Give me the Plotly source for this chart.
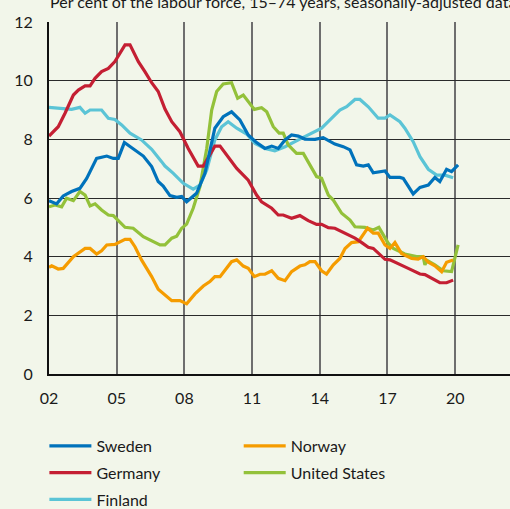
import plotly.graph_objects as go

# ---- data (decimal years, per cent) ----
sweden_x = [2002.0, 2002.34, 2002.63, 2003.0, 2003.37, 2003.67, 2004.11, 2004.56, 2004.85, 2005.07, 2005.34, 2005.73, 2006.18, 2006.55, 2006.84, 2007.06, 2007.36, 2007.66, 2007.88, 2008.1, 2008.54, 2008.91, 2009.35, 2009.72, 2010.09, 2010.46, 2010.83, 2011.2, 2011.57, 2011.87, 2012.16, 2012.46, 2012.75, 2013.05, 2013.34, 2013.79, 2014.15, 2014.67, 2015.04, 2015.34, 2015.63, 2015.93, 2016.15, 2016.37, 2016.89, 2017.11, 2017.55, 2017.70, 2018.14, 2018.44, 2018.81, 2019.10, 2019.32, 2019.62, 2019.84, 2020.13]
sweden_y = [5.91, 5.80, 6.07, 6.22, 6.33, 6.67, 7.35, 7.43, 7.35, 7.35, 7.89, 7.69, 7.43, 7.07, 6.56, 6.41, 6.08, 6.02, 6.05, 5.87, 6.16, 6.84, 8.38, 8.77, 8.94, 8.66, 8.15, 7.89, 7.69, 7.77, 7.69, 7.98, 8.15, 8.11, 8.01, 8.0, 8.06, 7.84, 7.75, 7.64, 7.13, 7.09, 7.13, 6.86, 6.92, 6.70, 6.70, 6.67, 6.14, 6.36, 6.44, 6.70, 6.56, 6.98, 6.90, 7.13]

germany_x = [2002.0, 2002.41, 2002.71, 2003.08, 2003.30, 2003.6, 2003.82, 2004.04, 2004.33, 2004.63, 2004.92, 2005.37, 2005.59, 2005.96, 2006.25, 2006.55, 2006.84, 2007.14, 2007.44, 2007.80, 2008.17, 2008.61, 2008.84, 2009.35, 2009.58, 2009.94, 2010.32, 2010.83, 2011.20, 2011.42, 2011.87, 2012.16, 2012.38, 2012.75, 2013.12, 2013.49, 2013.86, 2014.08, 2014.38, 2014.67, 2015.12, 2015.56, 2015.86, 2016.15, 2016.37, 2016.89, 2017.11, 2017.55, 2017.92, 2018.44, 2018.66, 2019.32, 2019.62, 2019.91]
germany_y = [8.11, 8.43, 8.89, 9.51, 9.68, 9.82, 9.82, 10.08, 10.31, 10.42, 10.65, 11.22, 11.22, 10.65, 10.31, 9.93, 9.63, 9.03, 8.6, 8.26, 7.69, 7.09, 7.09, 7.77, 7.77, 7.41, 7.01, 6.61, 6.10, 5.87, 5.65, 5.42, 5.42, 5.31, 5.40, 5.23, 5.10, 5.10, 4.99, 4.97, 4.80, 4.63, 4.48, 4.32, 4.28, 3.91, 3.89, 3.72, 3.60, 3.41, 3.39, 3.11, 3.11, 3.20]

finland_x = [2002.0, 2002.63, 2003.0, 2003.37, 2003.6, 2003.82, 2004.33, 2004.63, 2004.92, 2005.22, 2005.59, 2006.1, 2006.55, 2006.99, 2007.14, 2007.51, 2007.95, 2008.39, 2008.69, 2008.99, 2009.35, 2009.65, 2009.94, 2010.32, 2010.76, 2011.13, 2011.57, 2012.01, 2012.46, 2013.05, 2013.64, 2014.08, 2014.53, 2014.89, 2015.19, 2015.56, 2015.78, 2016.15, 2016.59, 2016.89, 2017.11, 2017.55, 2017.77, 2018.14, 2018.44, 2018.81, 2019.18, 2019.55, 2019.91]
finland_y = [9.09, 9.06, 9.02, 9.09, 8.89, 9.0, 9.0, 8.72, 8.68, 8.49, 8.21, 7.98, 7.66, 7.24, 7.09, 6.84, 6.50, 6.30, 6.44, 6.96, 7.98, 8.43, 8.60, 8.38, 8.18, 7.86, 7.69, 7.61, 7.75, 7.98, 8.21, 8.38, 8.72, 9.0, 9.11, 9.36, 9.36, 9.11, 8.72, 8.72, 8.83, 8.60, 8.38, 7.92, 7.41, 6.98, 6.78, 6.78, 6.69]

norway_x = [2002.0, 2002.12, 2002.41, 2002.63, 2003.08, 2003.6, 2003.82, 2004.11, 2004.33, 2004.56, 2004.92, 2005.37, 2005.59, 2005.81, 2006.1, 2006.55, 2006.84, 2007.14, 2007.44, 2007.80, 2008.1, 2008.47, 2008.84, 2009.13, 2009.35, 2009.58, 2009.87, 2010.09, 2010.32, 2010.61, 2010.83, 2011.10, 2011.35, 2011.57, 2011.87, 2012.16, 2012.46, 2012.75, 2013.12, 2013.34, 2013.56, 2013.79, 2014.08, 2014.30, 2014.60, 2014.89, 2015.12, 2015.41, 2015.71, 2016.12, 2016.37, 2016.59, 2016.89, 2017.11, 2017.33, 2017.62, 2018.07, 2018.36, 2018.58, 2018.81, 2019.10, 2019.40, 2019.62, 2019.91]
norway_y = [3.64, 3.69, 3.58, 3.60, 4.0, 4.28, 4.28, 4.09, 4.20, 4.40, 4.42, 4.59, 4.59, 4.34, 3.89, 3.32, 2.89, 2.69, 2.50, 2.50, 2.39, 2.73, 3.0, 3.15, 3.32, 3.32, 3.60, 3.83, 3.89, 3.68, 3.60, 3.32, 3.40, 3.40, 3.52, 3.26, 3.18, 3.49, 3.68, 3.72, 3.83, 3.83, 3.52, 3.41, 3.72, 3.94, 4.28, 4.48, 4.51, 4.97, 4.80, 4.80, 4.40, 4.28, 4.48, 4.11, 3.94, 3.92, 4.0, 3.81, 3.69, 3.49, 3.81, 3.89]

us_x = [2002.0, 2002.27, 2002.56, 2002.78, 2003.08, 2003.37, 2003.6, 2003.82, 2004.04, 2004.33, 2004.63, 2004.85, 2005.37, 2005.73, 2006.18, 2006.62, 2006.92, 2007.14, 2007.44, 2007.66, 2007.88, 2008.1, 2008.39, 2008.69, 2008.99, 2009.21, 2009.43, 2009.72, 2010.09, 2010.36, 2010.61, 2011.10, 2011.42, 2011.65, 2011.94, 2012.2, 2012.38, 2012.6, 2012.97, 2013.27, 2013.71, 2013.86, 2014.08, 2014.38, 2014.60, 2014.97, 2015.34, 2015.56, 2016.0, 2016.37, 2016.62, 2017.03, 2017.26, 2017.77, 2018.29, 2018.58, 2018.66, 2018.76, 2019.10, 2019.47, 2019.84, 2020.13]
us_y = [5.70, 5.76, 5.70, 5.99, 5.91, 6.22, 6.10, 5.73, 5.80, 5.59, 5.42, 5.40, 5.0, 4.97, 4.68, 4.51, 4.40, 4.40, 4.63, 4.70, 4.97, 5.11, 5.65, 6.39, 7.69, 9.0, 9.63, 9.89, 9.93, 9.40, 9.51, 9.02, 9.08, 8.94, 8.43, 8.21, 8.21, 7.81, 7.52, 7.52, 6.96, 6.73, 6.67, 6.10, 5.93, 5.48, 5.25, 5.02, 5.0, 4.91, 5.0, 4.46, 4.28, 4.09, 4.0, 4.0, 3.72, 3.87, 3.72, 3.52, 3.49, 4.40]

x_tickvals = [2002, 2005, 2008, 2011, 2014, 2017, 2020, 2023]
x_ticktext = ["02", "05", "08", "11", "14", "17", "20", "23"]
y_tickvals = [0, 2, 4, 6, 8, 10, 12]

subtitle = "Per cent of the labour force, 15–74 years, seasonally-adjusted data"

FONT = "Lato"
BG = "#F2F6EA"
TXT = "#1a1a1a"

series = [
    # name, x, y, color, legend, rank
    ("Finland", finland_x, finland_y, "#5BC4D6", "legend", 3),
    ("United States", us_x, us_y, "#93C13A", "legend2", 2),
    ("Norway", norway_x, norway_y, "#F59C00", "legend2", 1),
    ("Germany", germany_x, germany_y, "#C41F33", "legend", 2),
    ("Sweden", sweden_x, sweden_y, "#0072BB", "legend", 1),
]

fig = go.Figure()
for name, xs, ys, col, leg, rank in series:
    fig.add_trace(go.Scatter(
        x=xs, y=ys, mode="lines", name=name,
        line=dict(color=col, width=3.2),
        legend=leg, legendrank=rank, legendgroup=name,
    ))

leg_common = dict(
    orientation="v", xanchor="left", yanchor="top",
    bgcolor="rgba(0,0,0,0)", borderwidth=0,
    font=dict(family=FONT, size=16, color=TXT),
    tracegroupgap=3, itemwidth=42,
)

fig.update_layout(
    width=510, height=509,
    margin=dict(l=49, r=0, t=22, b=135, autoexpand=False),
    paper_bgcolor=BG, plot_bgcolor=BG,
    font=dict(family=FONT, size=16, color=TXT),
    showlegend=True,
    legend=dict(x=-0.010, y=-0.156, **leg_common),
    legend2=dict(x=0.4115, y=-0.156, **leg_common),
    xaxis=dict(
        range=[2002, 2022.43], tickvals=x_tickvals, ticktext=x_ticktext,
        showgrid=True, gridcolor="#6E6E6E", gridwidth=1.6,
        showline=True, linecolor="#111", linewidth=2,
        ticks="", ticklabelstandoff=9, zeroline=False,
        tickfont=dict(family=FONT, size=16, color=TXT),
    ),
    yaxis=dict(
        range=[0, 12], tickvals=y_tickvals,
        showgrid=True, gridcolor="#2A2A2A", gridwidth=1.3,
        showline=True, linecolor="#111", linewidth=2,
        ticks="", ticklabelstandoff=11, zeroline=False,
        tickfont=dict(family=FONT, size=16, color=TXT),
    ),
    annotations=[dict(
        text=subtitle, xref="paper", yref="paper", x=-0.003, y=1.058,
        xanchor="left", yanchor="middle", showarrow=False,
        font=dict(family=FONT, size=16, color=TXT),
    )],
)

fig.write_html(
    "out.html",
    config={"displayModeBar": False},
    post_script="document.body.style.margin='0';document.body.style.overflow='hidden';",
)
